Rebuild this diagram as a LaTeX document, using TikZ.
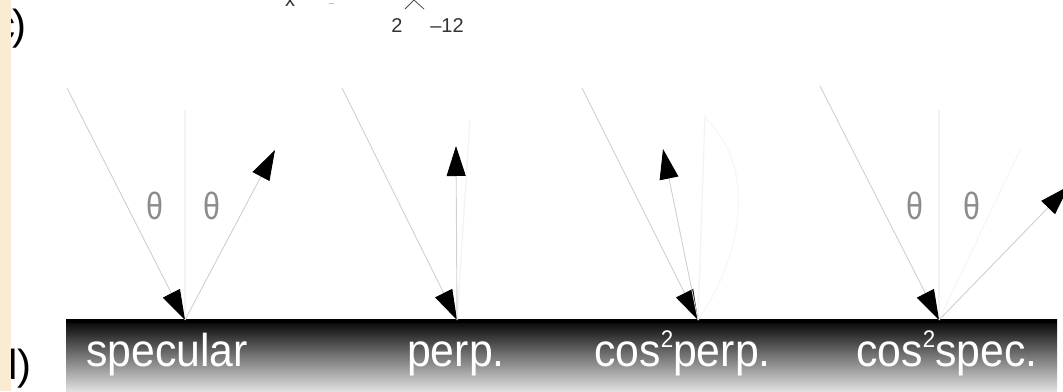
\documentclass[tikz,border=0pt]{standalone}
\usepackage{fontspec}
\setmainfont{Liberation Sans}
\usetikzlibrary{arrows.meta}
\definecolor{peach}{HTML}{FCEBD3}
\definecolor{raygray}{HTML}{D0D0D0}
\definecolor{faint}{HTML}{F3F3F3}
\definecolor{fainter}{HTML}{F7F7F7}
\definecolor{thetagray}{HTML}{8C8C8C}
\newcommand{\sqz}[1]{\scalebox{0.93}[1]{#1}}
\newcommand{\thin}[1]{\scalebox{0.8}[1]{#1}}
\newcommand{\suptwo}{\raisebox{19pt}{\fontsize{24}{24}\selectfont 2}}
\tikzset{
  ray/.style={draw=raygray, line width=0.9pt},
  rayarrow/.style={ray, -{Triangle[length=30pt,width=19pt,color=black]}},
  normalline/.style={draw=faint, line width=1.2pt},
  lobeline/.style={draw=fainter, line width=1.2pt},
  barlabel/.style={text=white, font=\fontsize{46}{46}\selectfont, anchor=base west, inner sep=0pt},
  thetalabel/.style={text=thetagray, font=\fontsize{38}{38}\selectfont, inner sep=0pt},
  panellabel/.style={text=black, font=\fontsize{42}{42}\selectfont, anchor=base west, inner sep=0pt},
  toplabel/.style={text=black!80, font=\fontsize{20}{20}\selectfont, inner sep=0pt}
}
\begin{document}
\begin{tikzpicture}[x=1pt,y=-1pt]
\useasboundingbox (0,0) rectangle (1063,391);
\clip (0,0) rectangle (1063,391);
\fill[white] (0,0) rectangle (1063,391);

% top fragment (cut off tree)
\node[toplabel, anchor=base] (tx) at (290,6) {x};
\draw[black!25, line width=0.8pt] (329,3) -- (334,3);
\coordinate (apex) at (414,0);
\coordinate (bl) at (405,9);
\coordinate (br) at (424,9);
\draw[black!70, line width=0.8pt] (bl) -- (apex) -- (br);
\node[toplabel, anchor=base] (n2) at (397,32) {2};
\node[toplabel, anchor=base] (n12) at (447,32) {–12};

% panel labels (partly hidden by the strip)
\node[panellabel] (lc) at (-6,39) {c\kern-3pt)};
\node[panellabel] (ld) at (-6,379) {d)};

% surface bar
\shade[top color=black, bottom color=black!12, middle color=black!55] (66,319) rectangle (1057,391);
\fill[black] (66,319) rectangle (1057,323);

% hit points
\coordinate (hitA) at (185,320);
\coordinate (hitB) at (457,320);
\coordinate (hitC) at (698,320);
\coordinate (hitD) at (939,320);

% faint normals and lobes
\draw[normalline] (hitA) -- (185,110);
\draw[normalline] (hitB) -- (470,120);
\draw[normalline] (hitC) -- (705,115);
\draw[normalline] (hitD) -- (939,110);
\draw[lobeline] (hitC) .. controls (740,260) and (760,170) .. (705,118);
\draw[lobeline] (hitD) -- (1020,150);

% specular
\coordinate (inA) at (67,88);
\coordinate (outA) at (275,150);
\draw[rayarrow] (inA) -- (hitA);
\draw[rayarrow] (hitA) -- (outA);
\node[thetalabel] (thA1) at (155,206) {\thin{θ}};
\node[thetalabel] (thA2) at (212,206) {\thin{θ}};

% perp.
\coordinate (inB) at (342,88);
\coordinate (outB) at (456,146);
\draw[rayarrow] (inB) -- (hitB);
\draw[rayarrow] (hitB) -- (outB);

% cos^2 perp.
\coordinate (inC) at (582,88);
\coordinate (outC) at (663,149);
\draw[rayarrow] (inC) -- (hitC);
\draw[rayarrow] (hitC) -- (outC);

% cos^2 spec.
\coordinate (inD) at (820,86);
\coordinate (outD) at (1069,186);
\draw[rayarrow] (inD) -- (hitD);
\draw[rayarrow] (hitD) -- (outD);
\node[thetalabel] (thD1) at (915,206) {\thin{θ}};
\node[thetalabel] (thD2) at (972,206) {\thin{θ}};

% bar labels
\node[barlabel] (lspec) at (86,366) {\sqz{specular}};
\node[barlabel] (lperp) at (407,366) {\sqz{perp.}};
\node[barlabel] (lcperp) at (594,366) {\sqz{cos\suptwo perp.}};
\node[barlabel] (lcspec) at (856,366) {\sqz{cos\suptwo spec.}};

% peach strip
\fill[peach] (0,0) rectangle (10.5,391);
\end{tikzpicture}
\end{document}
